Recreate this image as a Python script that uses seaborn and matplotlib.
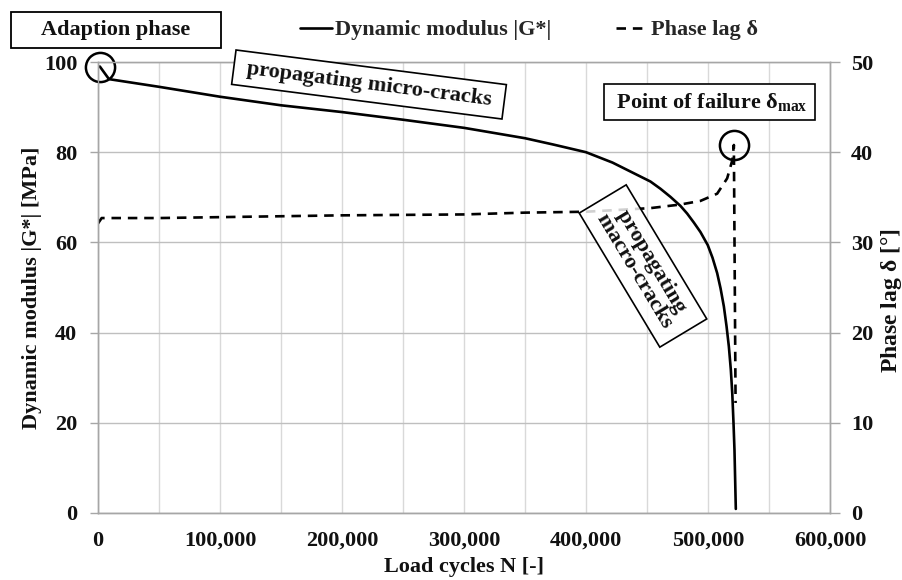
import numpy as np
import pandas as pd
import seaborn as sns
import matplotlib
matplotlib.use("Agg")
import matplotlib.pyplot as plt
from matplotlib.patches import Rectangle
from matplotlib.ticker import MultipleLocator, FuncFormatter
from matplotlib.lines import Line2D

# ---------------- data ----------------
mod_cycles = [1500, 9000, 50000, 100000, 150000, 200000, 250000, 300000,
              350000, 373200, 400000, 421700, 452800, 461000, 469200, 477400,
              482900, 488400, 493800, 499800, 503700, 507500, 510300, 513000,
              515200, 517100, 518700, 519900, 520900, 521700, 522800]
mod_values = [99.0, 96.2, 94.5, 92.3, 90.4, 88.9, 87.2, 85.4,
              83.1, 81.7, 80.0, 77.7, 73.5, 71.9, 70.1, 68.1,
              66.4, 64.4, 62.3, 59.4, 56.6, 53.2, 49.8, 45.8,
              41.4, 36.9, 31.8, 26.5, 20.0, 14.0, 0.9]

phase_cycles = [0, 3000, 50000, 100000, 150000, 200000, 250000, 300000, 350000,
                400000, 452800, 477400, 493800, 507500, 515700, 519900, 521200, 522600]
phase_values = [32.1, 32.7, 32.7, 32.8, 32.9, 33.0, 33.05, 33.1, 33.3,
                33.4, 33.8, 34.2, 34.6, 35.4, 37.1, 39.1, 40.8, 12.2]

x_ticks = [0, 100000, 200000, 300000, 400000, 500000, 600000]
left_ticks = [0, 20, 40, 60, 80, 100]
right_ticks = [0, 10, 20, 30, 40, 50]

label_mod = "Dynamic modulus |G*|"
label_phase = "Phase lag δ"

mod_df = pd.DataFrame({"N": mod_cycles, "G": mod_values})
phase_df = pd.DataFrame({"N": phase_cycles, "d": phase_values})

# ---------------- style ----------------
sns.set_style("white")
plt.rcParams["font.family"] = ["Liberation Serif", "DejaVu Serif"]
plt.rcParams["font.weight"] = "bold"
plt.rcParams["mathtext.fontset"] = "custom"
plt.rcParams["mathtext.rm"] = "Liberation Serif"
plt.rcParams["mathtext.it"] = "Liberation Serif:bold"
plt.rcParams["mathtext.bf"] = "Liberation Serif:bold"

FS = 16
TXT = "#111111"
SPINE = "#a6a6a6"

fig = plt.figure(figsize=(9.03, 5.80), dpi=100)
ax = fig.add_axes([98 / 903, 1 - 513 / 580, 732 / 903, 451 / 580])
ax2 = ax.twinx()

lw = 1.9
sns.lineplot(data=mod_df, x="N", y="G", ax=ax, color="black", linewidth=lw,
             label=label_mod, legend=False, sort=False)
sns.lineplot(data=phase_df, x="N", y="d", ax=ax2, color="black", linewidth=lw,
             label=label_phase, legend=False, sort=False)
ax2.lines[0].set_dashes((3.6, 2.6))

ax.set_xlim(0, 600000)
ax.set_ylim(0, 100)
ax2.set_ylim(0, 50)

ax.set_xticks(x_ticks)
ax.xaxis.set_minor_locator(MultipleLocator(50000))
ax.set_yticks(left_ticks)
ax2.set_yticks(right_ticks)
ax.xaxis.set_major_formatter(FuncFormatter(lambda v, p: f"{int(v):,}"))

ax.grid(True, axis="x", which="both", color="#d9d9d9", linewidth=1.0)
ax.grid(True, axis="y", which="major", color="#bfbfbf", linewidth=1.0)
ax2.grid(False)
ax.set_axisbelow(True)

for a in (ax, ax2):
    for s in a.spines.values():
        s.set_color(SPINE)
        s.set_linewidth(1.0)
ax.spines["top"].set_color("#bfbfbf")

ax.tick_params(axis="both", which="major", direction="out", length=6, width=1.0,
               color=SPINE, labelsize=FS, labelcolor=TXT, pad=9)
ax.tick_params(axis="x", which="major", pad=7)
ax.tick_params(axis="x", which="minor", length=0)
ax.tick_params(axis="y", right=False)
ax2.tick_params(axis="y", direction="out", length=7, width=1.0, color=SPINE,
                labelsize=FS, labelcolor=TXT, pad=8)
for lab in ax.get_xticklabels() + ax.get_yticklabels() + ax2.get_yticklabels():
    lab.set_fontweight("bold")

ax.set_xlabel("Load cycles N [-]", fontsize=FS, fontweight="bold", color=TXT)
ax.set_ylabel("Dynamic modulus |G*| [MPa]", fontsize=FS, fontweight="bold", color=TXT)
ax2.set_ylabel(r"Phase lag $\mathrm{\delta}$ [°]", fontsize=17, fontweight="bold", color=TXT)
ax.xaxis.set_label_coords(0.5, -0.098)
ax.yaxis.set_label_coords(-0.077, 0.5)
ax2.yaxis.set_label_coords(1.067, 0.471)

# circles marking start and failure point (derived from data)
ax.plot([mod_cycles[0]], [mod_values[0]], marker="o", markersize=21,
        markerfacecolor="none", markeredgecolor="black", markeredgewidth=1.8,
        linestyle="none", clip_on=False, zorder=5)
imax = int(np.argmax(phase_values))
ax2.plot([phase_cycles[imax]], [phase_values[imax]], marker="o", markersize=21,
         markerfacecolor="none", markeredgecolor="black", markeredgewidth=1.8,
         linestyle="none", clip_on=False, zorder=5)

# legend
handles = [Line2D([0], [0], color="black", lw=lw),
           Line2D([0], [0], color="black", lw=lw, dashes=(3.6, 2.6))]
fig.legend(handles, [label_mod, label_phase], loc="center",
           bbox_to_anchor=(529 / 903, 1 - 30 / 580), ncol=2, frameon=False,
           prop={"family": ["Liberation Serif", "DejaVu Serif"], "weight": "bold", "size": FS},
           handlelength=1.45, handletextpad=0.15, columnspacing=2.9, borderpad=0)

# annotation boxes
fig.patches.append(Rectangle((11 / 903, 1 - 48 / 580), 210 / 903, 36 / 580,
                             transform=fig.transFigure, facecolor="white",
                             edgecolor="black", linewidth=1.3))
fig.text(116 / 903, 1 - 30 / 580, "Adaption phase", ha="center", va="center",
         fontsize=FS, fontweight="bold", color=TXT)

box = dict(boxstyle="square,pad=0.33", facecolor="white", edgecolor="black", linewidth=1.2)
fig.text(369 / 903, 1 - 84.5 / 580, " propagating micro-cracks ", ha="center",
         va="center", rotation=-7.3, rotation_mode="anchor", fontsize=FS,
         fontweight="bold", color=TXT, bbox=box)
fig.text(709.5 / 903, 1 - 102 / 580, r" Point of failure $\delta_{max}$ ", ha="center",
         va="center", fontsize=FS, fontweight="bold", color=TXT, bbox=box)
box2 = dict(boxstyle="square,pad=0.35", facecolor=(1, 1, 1, 0.82), edgecolor="black",
            linewidth=1.2)
fig.text(643 / 903, 1 - 266 / 580, " propagating \n macro-cracks ", ha="center",
         va="center", multialignment="center", rotation=-59, rotation_mode="anchor",
         fontsize=FS, fontweight="bold", color=TXT, bbox=box2, linespacing=0.95)

fig.savefig("out.png", dpi=100)
